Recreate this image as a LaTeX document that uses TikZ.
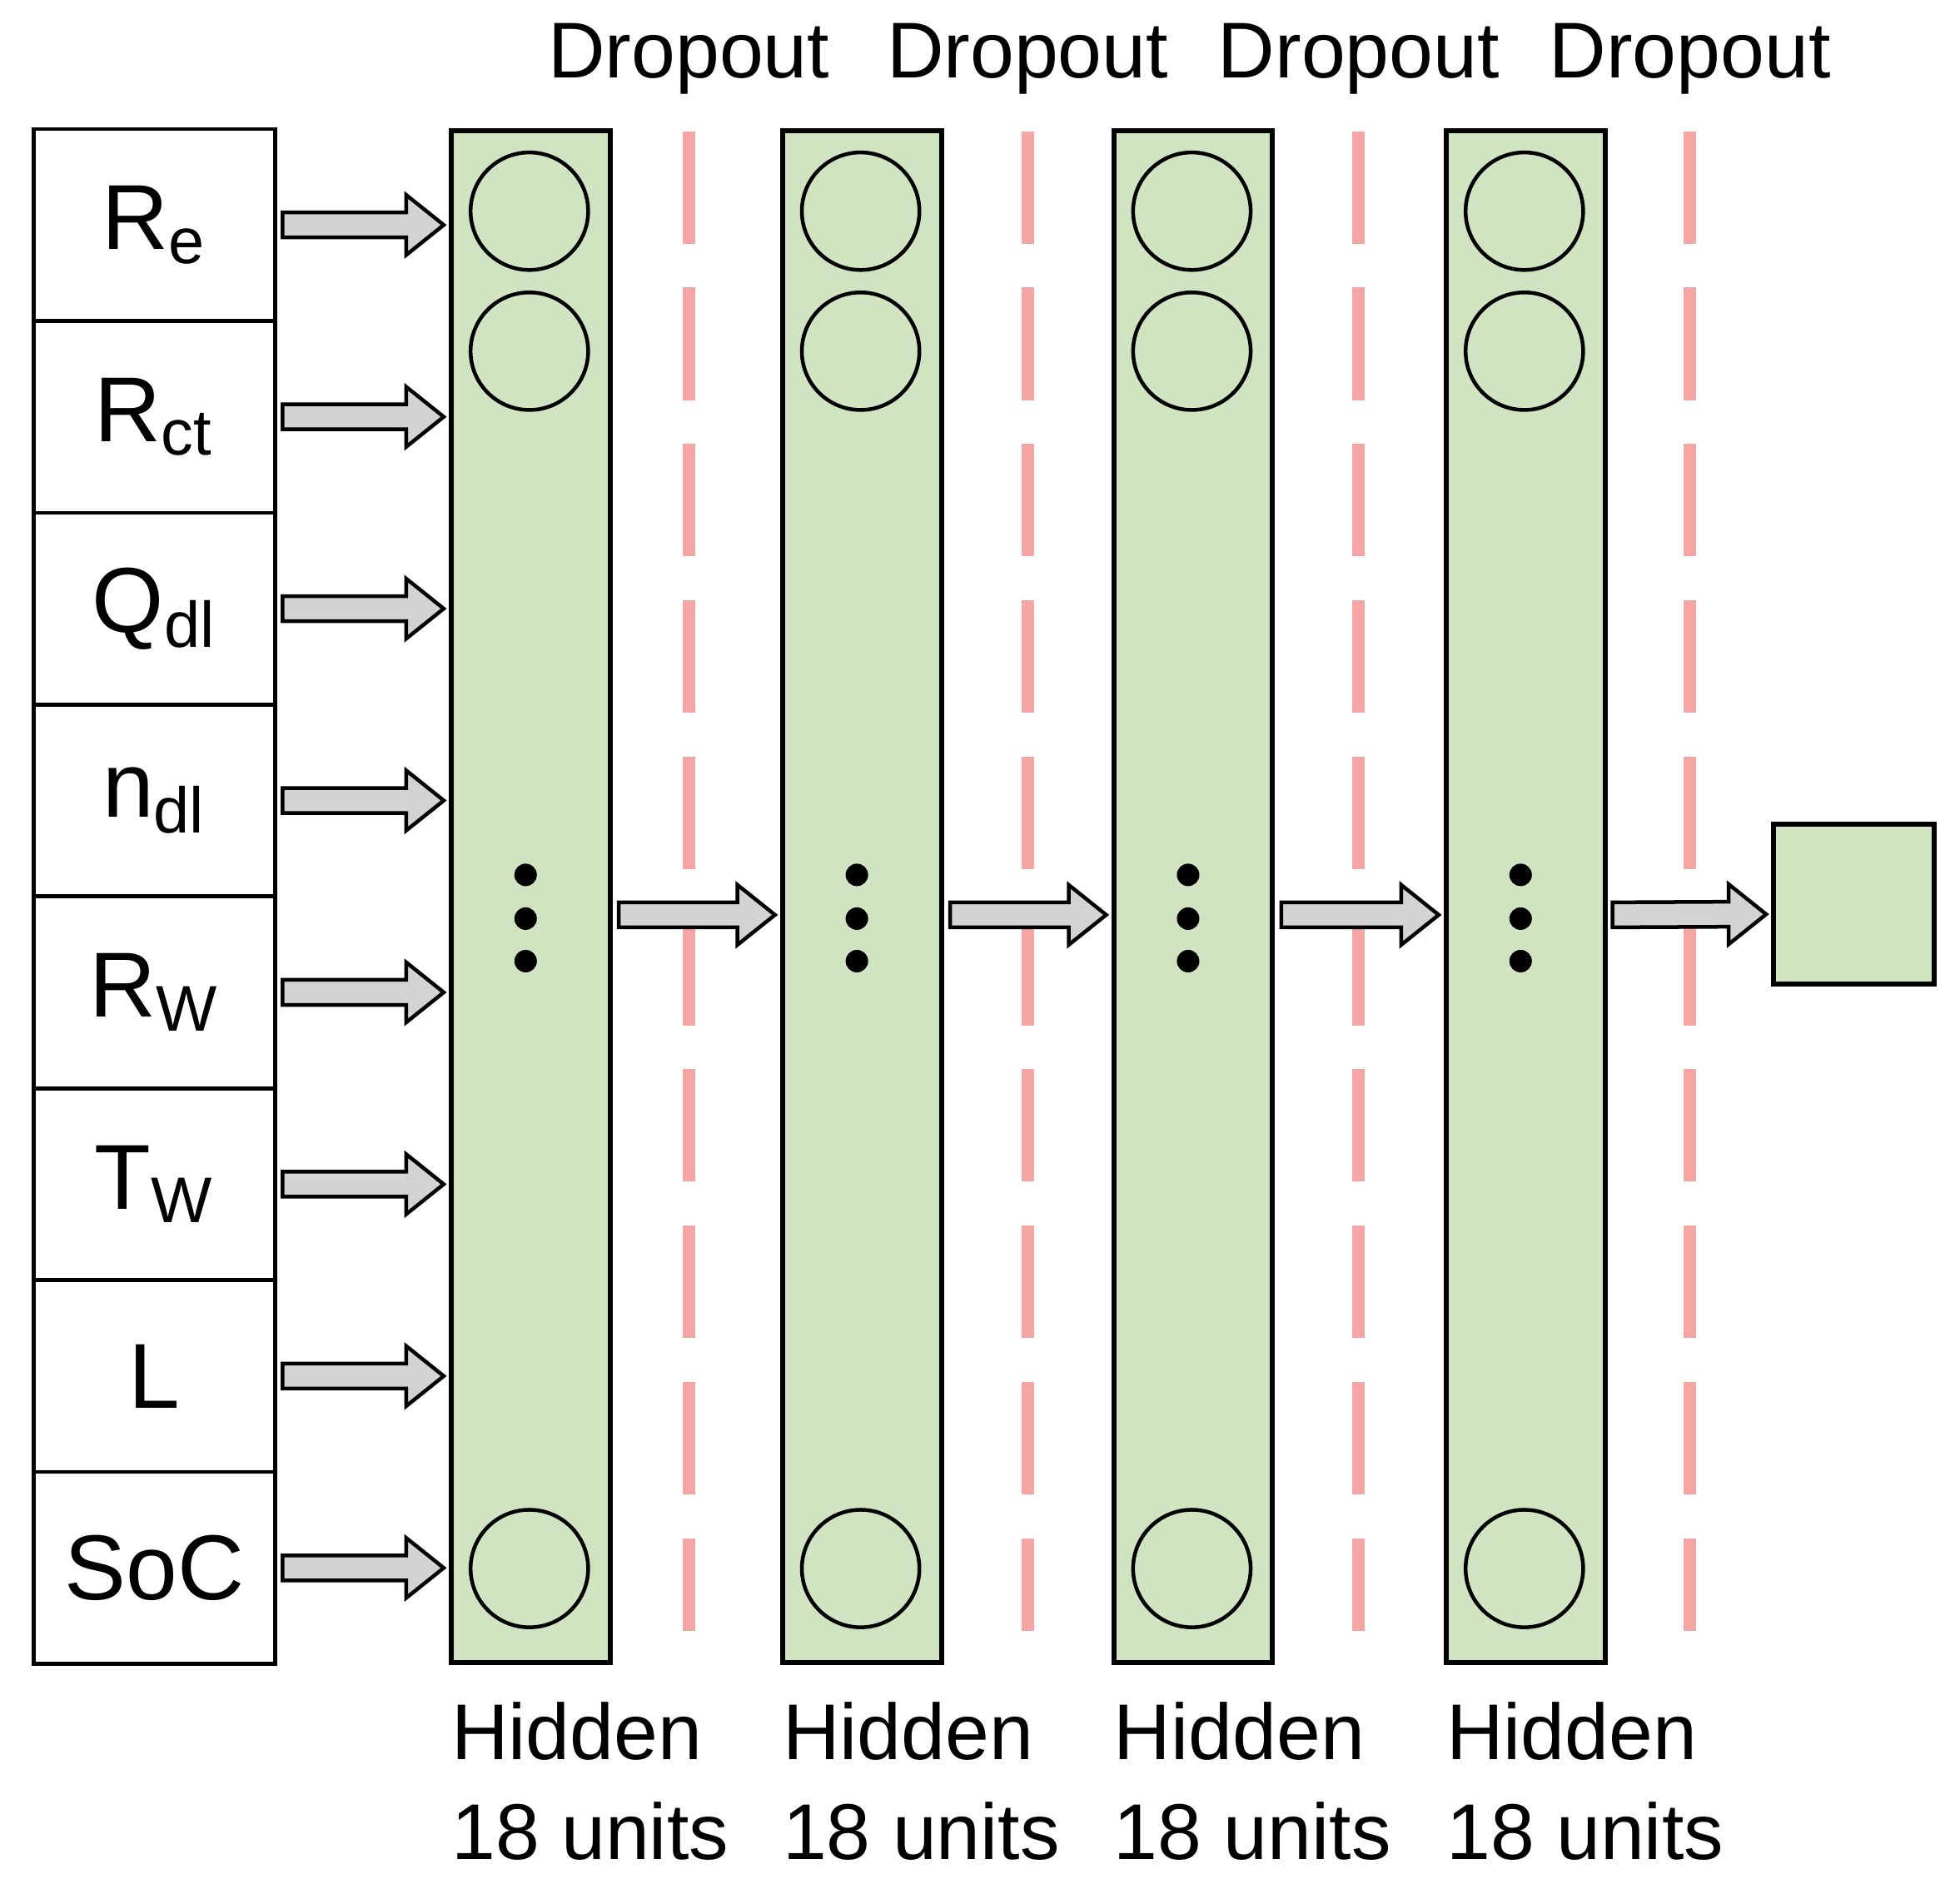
\documentclass[tikz,border=0pt]{standalone}
\usepackage{fontspec}
\setmainfont{Liberation Sans}
\usetikzlibrary{calc}
\definecolor{layergreen}{HTML}{D0E4C2}
\definecolor{droppink}{HTML}{F6A5A5}
\definecolor{arrowgray}{HTML}{D3D3D3}
\newcommand\fatarrow[2]{\draw[fatarr] ($(#1)+(0,10)$) -- ($(#2)+(-30,10)$) -- ($(#2)+(-30,24)$) -- (#2) -- ($(#2)+(-30,-24)$) -- ($(#2)+(-30,-10)$) -- ($(#1)+(0,-10)$) -- cycle;}
\begin{document}
\begin{tikzpicture}[x=0.01cm,y=0.01cm]
  \tikzset{inbox/.style={draw,line width=0.3mm,minimum width=1.93cm,minimum height=1.535cm,inner sep=0pt,font=\fontsize{21}{25}\selectfont},
    layer/.style={draw,line width=0.4mm,fill=layergreen,minimum width=1.27cm,minimum height=12.25cm,inner sep=0pt},
    unit/.style={draw,circle,line width=0.3mm,minimum size=0.94cm,inner sep=0pt},
    dot/.style={fill,circle,minimum size=0.18cm,inner sep=0pt},
    fatarr/.style={draw,line width=0.3mm,fill=arrowgray,line join=miter},
    drop/.style={droppink,line width=1mm,dash pattern=on 9mm off 3.5mm},
    lbl/.style={font=\fontsize{18}{22}\selectfont,inner sep=0pt}}
  \useasboundingbox (0,0) rectangle (1568,-1507);
  %inputs
  \foreach \t [count=\i from 0] in {R$_\mathrm{e}$,R$_\mathrm{ct}$,Q$_\mathrm{dl}$,n$_\mathrm{dl}$,R$_\mathrm{W}$,T$_\mathrm{W}$,L,SoC}{
    \node[inbox] (in\i) at (123.5,-180-153.5*\i) {\t};
    \coordinate (ins\i) at (226,-180-153.5*\i);
    \coordinate (ine\i) at (355,-180-153.5*\i);
    \fatarrow{ins\i}{ine\i}
  }
  %layers
  \foreach \k/\x in {1/424.5,2/689.5,3/954.5,4/1220.5}{
    \node[layer] (h\k) at (\x,-717.5) {};
    \node[unit] (u\k a) at (\x-1,-169) {};
    \node[unit] (u\k b) at (\x-1,-281) {};
    \node[unit] (u\k c) at (\x-1,-1255) {};
    \node[dot] at (\x-4,-700) {};
    \node[dot] at (\x-4,-735) {};
    \node[dot] at (\x-4,-769) {};
    \node[lbl,anchor=west] (hid\k) at (\x-64,-1385) {Hidden};
    \node[lbl,anchor=west] (n\k) at (\x-64,-1465) {18 units};
  }
  %output
  \node[draw,line width=0.4mm,fill=layergreen,minimum size=1.28cm,inner sep=0pt] (out) at (1483,-723.5) {};
  %dropout
  \foreach \k/\x in {1/551,2/822,3/1087,4/1352}{
    \coordinate (dt\k) at (\x,-105);
    \coordinate (db\k) at (\x,-1305);
    \draw[drop] (dt\k) -- (db\k);
    \node[lbl] (do\k) at (\x,-47) {Dropout};
  }
  %links
  \foreach \a/\b in {1/2,2/3,3/4}{
    \coordinate (ls\a) at ($(h\a.east)+(5,-14.5)$);
    \coordinate (le\a) at ($(h\b.west)+(-4,-14.5)$);
    \fatarrow{ls\a}{le\a}
  }
  \coordinate (ls4) at ($(h4.east)+(4,-14.5)$);
  \coordinate (le4) at ($(out.west)+(-4,-8)$);
  \fatarrow{ls4}{le4}
\end{tikzpicture}
\end{document}
